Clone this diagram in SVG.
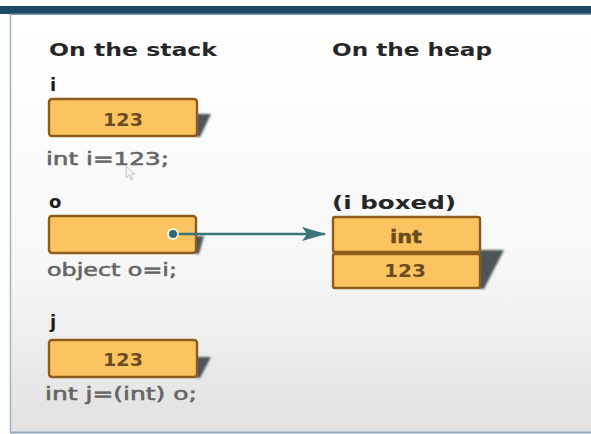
<svg xmlns="http://www.w3.org/2000/svg" width="591" height="434" viewBox="0 0 591 434">
<style>
.hdr{font-family:"DejaVu Sans","Verdana",sans-serif;font-weight:bold;font-size:18px;fill:#262626}
.var{font-family:"DejaVu Sans","Verdana",sans-serif;font-weight:bold;font-size:18px;fill:#1e1e1e}
.code{font-family:"DejaVu Sans","Verdana",sans-serif;font-size:18px;fill:#666666;stroke:#666666;stroke-width:0.6}
.val{font-family:"DejaVu Sans","Verdana",sans-serif;font-weight:bold;font-size:18px;fill:#6a4c22}
.cell{fill:#fcc460;stroke:#8d5b1b;stroke-width:2.4}
.shadow{fill:#4e5558;filter:url(#blur)}
.conn{stroke:#3b7479;stroke-width:2.5;fill:none}
</style>
<defs>
<linearGradient id="bg" x1="0" y1="0" x2="0" y2="1">
<stop offset="0" stop-color="#ffffff"/>
<stop offset="0.6" stop-color="#f7f7f7"/>
<stop offset="1" stop-color="#e1e1e1"/>
</linearGradient>
<filter id="blur" x="-20%" y="-20%" width="140%" height="140%"><feGaussianBlur stdDeviation="0.8"/></filter>
<marker id="arr" viewBox="0 0 24 16" refX="23" refY="8" markerWidth="24" markerHeight="16" markerUnits="userSpaceOnUse" orient="auto">
<path d="M0,1 L24,8 L0,15 L5,8 Z" fill="#3b7479"/>
</marker>
</defs>
<rect x="0" y="0" width="591" height="434" fill="#ffffff"/>
<rect x="10" y="13" width="581" height="419" fill="url(#bg)"/>
<line x1="10.5" y1="13" x2="10.5" y2="432" stroke="#9fb3c2" stroke-width="1.5"/>
<line x1="10" y1="432.5" x2="591" y2="432.5" stroke="#8fa9bd" stroke-width="2"/>
<rect x="0" y="6" width="591" height="8" fill="#1c4a66"/>
<rect x="10" y="13.5" width="581" height="1.5" fill="#7f9aae"/>

<text class="hdr" x="49" y="56" textLength="168" lengthAdjust="spacingAndGlyphs">On the stack</text>
<text class="hdr" x="332" y="56" textLength="160" lengthAdjust="spacingAndGlyphs">On the heap</text>

<g id="node-i">
<text class="var" x="50" y="91">i</text>
<polygon class="shadow" points="196,114 211,114 200,137 196,137"/>
<rect class="cell" x="49" y="99" width="148" height="37" rx="3"/>
<text class="val" x="103" y="126" textLength="40" lengthAdjust="spacingAndGlyphs">123</text>
<text class="code" x="46" y="165" textLength="123" lengthAdjust="spacingAndGlyphs">int i=123;</text>
<path d="M126,166 L126,178 L129,175 L131,180 L133,179 L131,174 L135,174 Z" fill="#f4f4f4" stroke="#b8b8b8" stroke-width="0.8"/>
</g>

<g id="node-o">
<text class="var" x="49" y="208">o</text>
<polygon class="shadow" points="195,236 204,236 199,254 195,254"/>
<rect class="cell" x="49" y="216" width="147" height="37" rx="3"/>
<text class="code" x="47" y="276" textLength="130" lengthAdjust="spacingAndGlyphs">object o=i;</text>
</g>

<g id="node-j">
<text class="var" x="50" y="328">j</text>
<polygon class="shadow" points="196,357 211,357 200,378 196,378"/>
<rect class="cell" x="49" y="340" width="148" height="37" rx="3"/>
<text class="val" x="103" y="366" textLength="40" lengthAdjust="spacingAndGlyphs">123</text>
<text class="code" x="45" y="400" textLength="152" lengthAdjust="spacingAndGlyphs">int j=(int) o;</text>
</g>

<g id="node-boxed">
<text class="hdr" x="332" y="209" textLength="124" lengthAdjust="spacingAndGlyphs">(i boxed)</text>
<polygon class="shadow" points="479,250 504,250 484,289 479,289"/>
<rect class="cell" x="333" y="217" width="147" height="35" rx="2"/>
<rect class="cell" x="333" y="254" width="147" height="34" rx="2"/>
<text class="val" x="390" y="243" textLength="32" lengthAdjust="spacingAndGlyphs" font-weight="normal" stroke="#6a4c22" stroke-width="0.5">int</text>
<text class="val" x="384" y="277" textLength="42" lengthAdjust="spacingAndGlyphs">123</text>
</g>

<g id="connectors">
<line class="conn" x1="173" y1="234" x2="325" y2="234" marker-end="url(#arr)"/>
<circle cx="173" cy="234" r="6" fill="#ffffff" opacity="0.8"/>
<circle cx="173" cy="234" r="4" fill="#2f6a70"/>
</g>
</svg>
